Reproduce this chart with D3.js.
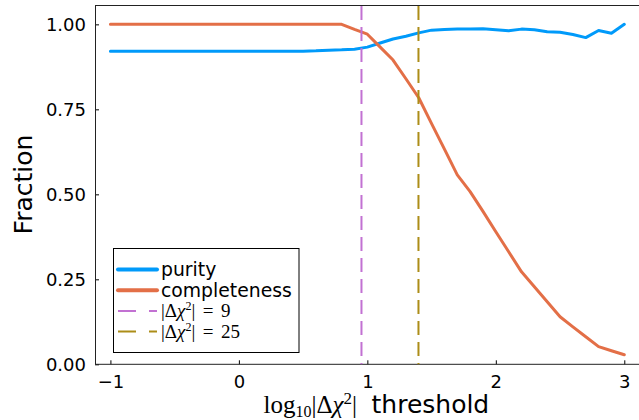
<!DOCTYPE html>
<html>
<head>
<meta charset="utf-8">
<script src="https://cdn.jsdelivr.net/npm/d3@7"></script>
<style>
  body { margin: 0; background: #fff; }
  svg { display: block; }
  .tick text { font-family: "DejaVu Sans", sans-serif; font-size: 18px; fill: #000; }
  .tick line { stroke: #000; }
</style>
</head>
<body>
<svg width="639" height="420"></svg>
<script>
// log10 |dchi2| threshold values
var thresholdLog = [-1.0, -0.9, -0.8, -0.7, -0.6, -0.5, -0.4, -0.3, -0.2, -0.1,
    0.0, 0.1, 0.2, 0.3, 0.4, 0.5, 0.6, 0.7, 0.8, 0.9,
    1.0, 1.1, 1.2, 1.3, 1.4, 1.5, 1.6, 1.7, 1.8, 1.9,
    2.0, 2.1, 2.2, 2.3, 2.4, 2.5, 2.6, 2.7, 2.8, 2.9, 3.0];

var purity = [0.921, 0.921, 0.921, 0.921, 0.921, 0.921, 0.921, 0.921, 0.921, 0.921,
    0.921, 0.921, 0.921, 0.921, 0.921, 0.921, 0.922, 0.924, 0.925, 0.927,
    0.933, 0.945, 0.957, 0.965, 0.975, 0.983, 0.985, 0.986, 0.986, 0.987,
    0.984, 0.981, 0.986, 0.984, 0.978, 0.977, 0.970, 0.961, 0.982, 0.974, 1.000];

var completeness = [1.0, 1.0, 1.0, 1.0, 1.0, 1.0, 1.0, 1.0, 1.0, 1.0,
    1.0, 1.0, 1.0, 1.0, 1.0, 1.0, 1.0, 1.0, 1.0, 0.985,
    0.971, 0.933, 0.895, 0.840, 0.784, 0.708, 0.633, 0.557, 0.508, 0.450,
    0.390, 0.331, 0.272, 0.228, 0.184, 0.140, 0.110, 0.081, 0.052, 0.040, 0.028];

// the two reference cuts |dchi2| = 9 and 25
var cutValues = [9, 25];

var xTicks = [-1, 0, 1, 2, 3];
var yTicks = [0, 0.25, 0.5, 0.75, 1.0];

var seriesColors = ["#009AFA", "#E36F47"];
var cutColors = ["#C271D2", "#AC8D18"];

var svg = d3.select("svg");
// note: "top" is taken by window.top, so use other names
var pLeft = 95, pRight = 639.7, pTop = 6, pBottom = 364.3;

var x = d3.scaleLinear().domain([-1.12, 3.12]).range([pLeft, pRight]);
var y = d3.scaleLinear().domain([0, 1.054]).range([pBottom, pTop]);

// axes, ticks point into the plot
svg.append("g")
    .attr("transform", "translate(0," + pBottom + ")")
    .call(d3.axisBottom(x).tickValues(xTicks).tickFormat(d3.format("d"))
        .tickSize(-4).tickPadding(11))
    .call(function(g) { g.select(".domain").remove(); });

svg.append("g")
    .attr("transform", "translate(" + pLeft + ",0)")
    .call(d3.axisLeft(y).tickValues(yTicks).tickFormat(d3.format(".2f"))
        .tickSize(-4).tickPadding(9))
    .call(function(g) { g.select(".domain").remove(); });

// frame
svg.append("rect")
    .attr("x", pLeft + 0.5).attr("y", pTop - 0.5)
    .attr("width", pRight - pLeft).attr("height", pBottom - pTop + 0.5)
    .attr("fill", "none").attr("stroke", "#222").attr("stroke-width", 1);

var line = d3.line()
    .x(function(d) { return x(d[0]); })
    .y(function(d) { return y(d[1]); });

[purity, completeness].forEach(function(vals, i) {
    svg.append("path")
        .datum(d3.zip(thresholdLog, vals))
        .attr("d", line)
        .attr("fill", "none")
        .attr("stroke", seriesColors[i])
        .attr("stroke-width", 3)
        .attr("stroke-linejoin", "round")
        .attr("stroke-linecap", "round");
});

svg.selectAll(".cut")
    .data(cutValues).enter().append("line")
        .attr("class", "cut")
        .attr("x1", function(d) { return x(Math.log10(d)); })
        .attr("x2", function(d) { return x(Math.log10(d)); })
        .attr("y1", pTop).attr("y2", pBottom)
        .attr("stroke", function(d, i) { return cutColors[i]; })
        .attr("stroke-width", 2)
        .attr("stroke-dasharray", "14,7");

// legend
var lg = svg.append("g");
lg.append("rect")
    .attr("x", 113.5).attr("y", 248.5).attr("width", 185.5).attr("height", 104)
    .attr("fill", "#fff").attr("stroke", "#000").attr("stroke-width", 1);

var rowY = function(i) { return 269.5 + i * 20.7; };
var legendItems = [
    {kind: "solid", color: seriesColors[0], label: "purity"},
    {kind: "solid", color: seriesColors[1], label: "completeness"},
    {kind: "dash", color: cutColors[0], value: cutValues[0]},
    {kind: "dash", color: cutColors[1], value: cutValues[1]}
];

legendItems.forEach(function(it, i) {
    var yy = rowY(i);
    lg.append("line")
        .attr("x1", 118).attr("x2", 157).attr("y1", yy).attr("y2", yy)
        .attr("stroke", it.color)
        .attr("stroke-width", it.kind == "solid" ? 4 : 2)
        .attr("stroke-linecap", it.kind == "solid" ? "round" : "butt")
        .attr("stroke-dasharray", it.kind == "solid" ? null : "18,13");
    if (it.kind == "solid") {
        lg.append("text").attr("x", 161).attr("y", yy + 6.5)
            .style("font-family", "DejaVu Sans, sans-serif").style("font-size", "18.8px")
            .text(it.label);
    } else {
        var t = lg.append("text").attr("x", 161).attr("y", yy + 6.5)
            .style("font-family", "Liberation Serif, serif").style("font-size", "19px");
        t.append("tspan").text("|\u0394");
        t.append("tspan").style("font-style", "italic").text("\u03C7");
        t.append("tspan").attr("dy", -7).style("font-size", "12px").text("2");
        t.append("tspan").attr("dy", 7).text("|\u2009\u2009=\u2009\u2009" + it.value);
    }
});

// axis titles
var xl = svg.append("text").attr("x", 357).attr("y", 413)
    .attr("text-anchor", "end")
    .style("font-family", "Liberation Serif, serif").style("font-size", "25px");
xl.append("tspan").text("log");
xl.append("tspan").attr("dy", 4).style("font-size", "16px").text("10");
xl.append("tspan").attr("dy", -4).text("|\u0394");
xl.append("tspan").style("font-style", "italic").text("\u03C7");
xl.append("tspan").attr("dy", -9).style("font-size", "17px").text("2");
xl.append("tspan").attr("dy", 9).text("|");

svg.append("text").attr("x", 371.5).attr("y", 413)
    .style("font-family", "DejaVu Sans, sans-serif").style("font-size", "25px")
    .text("threshold");

svg.append("text")
    .attr("transform", "translate(31.5,184.5) rotate(-90)")
    .attr("text-anchor", "middle")
    .style("font-family", "DejaVu Sans, sans-serif").style("font-size", "25px")
    .text("Fraction");
</script>
</body>
</html>
